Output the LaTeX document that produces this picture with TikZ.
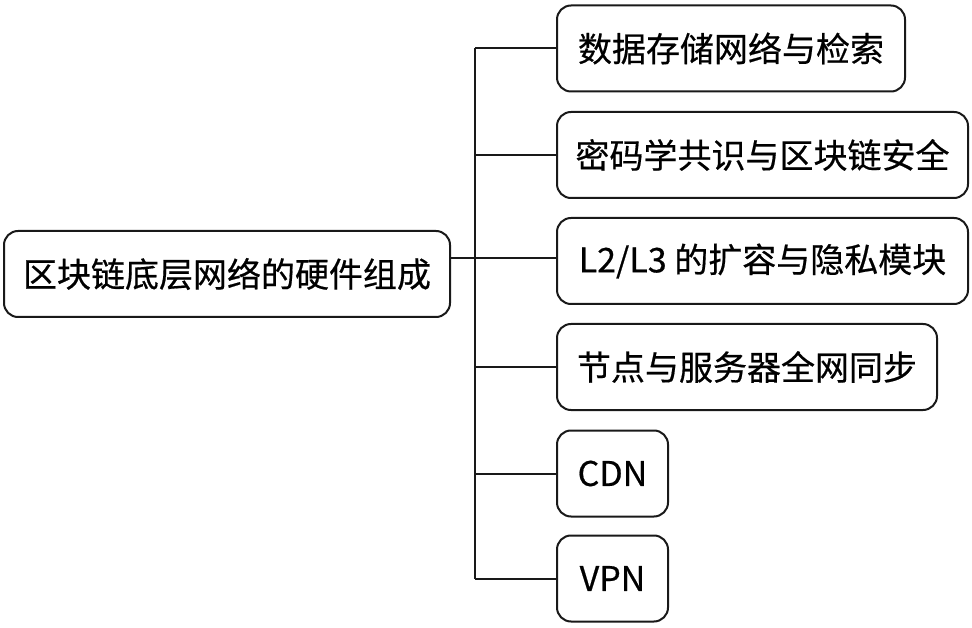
\documentclass[tikz,border=0pt]{standalone}
\usepackage{fontspec}
\setmainfont{Noto Sans CJK SC}
\newfontfamily\boxfont[FakeBold=0.5]{Noto Sans CJK SC}
\begin{document}
\begin{tikzpicture}[x=1pt,y=-1pt,
  box/.style={draw=black!90, line width=2pt, rounded corners=14pt, minimum height=86pt, inner sep=0pt, font=\boxfont\fontsize{34}{40}\selectfont, text=black},
  link/.style={draw=black!90, line width=2pt}]
\useasboundingbox (0,0) rectangle (972,628);
\node[box, minimum width=446pt] (root) at (227,274) {区块链底层网络的硬件组成};
\node[box, minimum width=348pt] (b1) at (731,48.5) {数据存储网络与检索};
\node[box, minimum width=411pt] (b2) at (762.5,155) {密码学共识与区块链安全};
\node[box, minimum width=411pt] (b3) at (762.5,261) {L2/L3 的扩容与隐私模块};
\node[box, minimum width=380pt] (b4) at (747,367) {节点与服务器全网同步};
\node[box, minimum width=111pt] (b5) at (612.5,473.5) {CDN};
\node[box, minimum width=111pt] (b6) at (612.5,578.5) {VPN};
\coordinate (j) at (475,258);
\draw[link] (root.east |- j) -- (b3.west |- j);
\draw[link] (j |- b1.west) -- (j |- b6.west);
\foreach \b in {b1,b2,b4,b5,b6} \draw[link] (j |- \b.west) -- (\b.west);
\end{tikzpicture}
\end{document}
